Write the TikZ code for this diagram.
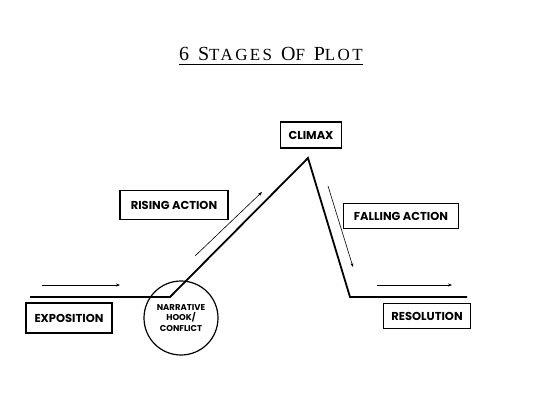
\documentclass[tikz,border=0pt]{standalone}
\usepackage{fontspec}
\setmainfont{Liberation Serif}
\newfontfamily\labelfont{Poppins}
\newfontfamily\titlefont[LetterSpace=14]{Liberation Serif}
\usetikzlibrary{arrows.meta}
\tikzset{
  stagebox/.style={draw=black, line width=1.2pt, font=\labelfont\bfseries\fontsize{11.5}{13}\selectfont, inner xsep=5pt, inner ysep=5pt},
  plotline/.style={black, line width=1.8pt},
  hint/.style={black, line width=0.6pt, -{Stealth[length=4pt,width=3pt]}}
}
\newcommand{\capbig}[1]{{\fontsize{20}{22}\selectfont #1}}
\newcommand{\capsmall}[1]{{\fontsize{17}{20}\selectfont #1}}
\begin{document}
\begin{tikzpicture}[x=1pt, y=-1pt]
        \useasboundingbox (0,0) rectangle (547,400);
        %% title
        \node[anchor=base, font=\titlefont, inner sep=0pt] (title) at (271,60) {\capbig{6}\hspace{5pt} \capbig{S}\capsmall{TAGES}\hspace{5pt} \capbig{O}\capsmall{F}\hspace{5pt} \capbig{P}\capsmall{LOT}};
        \draw[line width=0.9pt] ([yshift=-4pt]title.south west) -- ([yshift=-4pt]title.south east);

        %% plot line
        \coordinate (start) at (30,297);
        \coordinate (hook) at (170,297);
        \coordinate (peak) at (308,158);
        \coordinate (low) at (350,297);
        \coordinate (end) at (467,297);
        \draw[plotline, line join=miter] (start) -- (hook) -- (peak) -- (low) -- (end);

        %% labels
        \node[stagebox, minimum width=86pt, minimum height=30pt] (expo) at (69,318) {EXPOSITION};
        \node[draw=black, line width=1.2pt, circle, minimum size=74pt, inner sep=0pt, align=center, font=\labelfont\bfseries\fontsize{8.5}{10.5}\selectfont] (conflict) at (181,318) {NARRATIVE\\HOOK/\\CONFLICT};
        \node[stagebox, minimum width=108pt, minimum height=29pt] (rising) at (174,205) {RISING ACTION};
        \node[stagebox, minimum width=61pt, minimum height=26pt] (climax) at (311,135) {CLIMAX};
        \node[stagebox, minimum width=115pt, minimum height=25pt] (falling) at (401,216) {FALLING ACTION};
        \node[stagebox, minimum width=87pt, minimum height=25pt] (resol) at (427,316) {RESOLUTION};

        %% direction arrows
        \coordinate (a1) at (42,285);  \coordinate (b1) at (120,285);
        \coordinate (a2) at (195,256); \coordinate (b2) at (262,192);
        \coordinate (a3) at (328,186); \coordinate (b3) at (353,267);
        \coordinate (a4) at (377,285); \coordinate (b4) at (452,285);
        \draw[hint] (a1) -- (b1);
        \draw[hint] (a2) -- (b2);
        \draw[hint] (a3) -- (b3);
        \draw[hint] (a4) -- (b4);
\end{tikzpicture}
\end{document}
